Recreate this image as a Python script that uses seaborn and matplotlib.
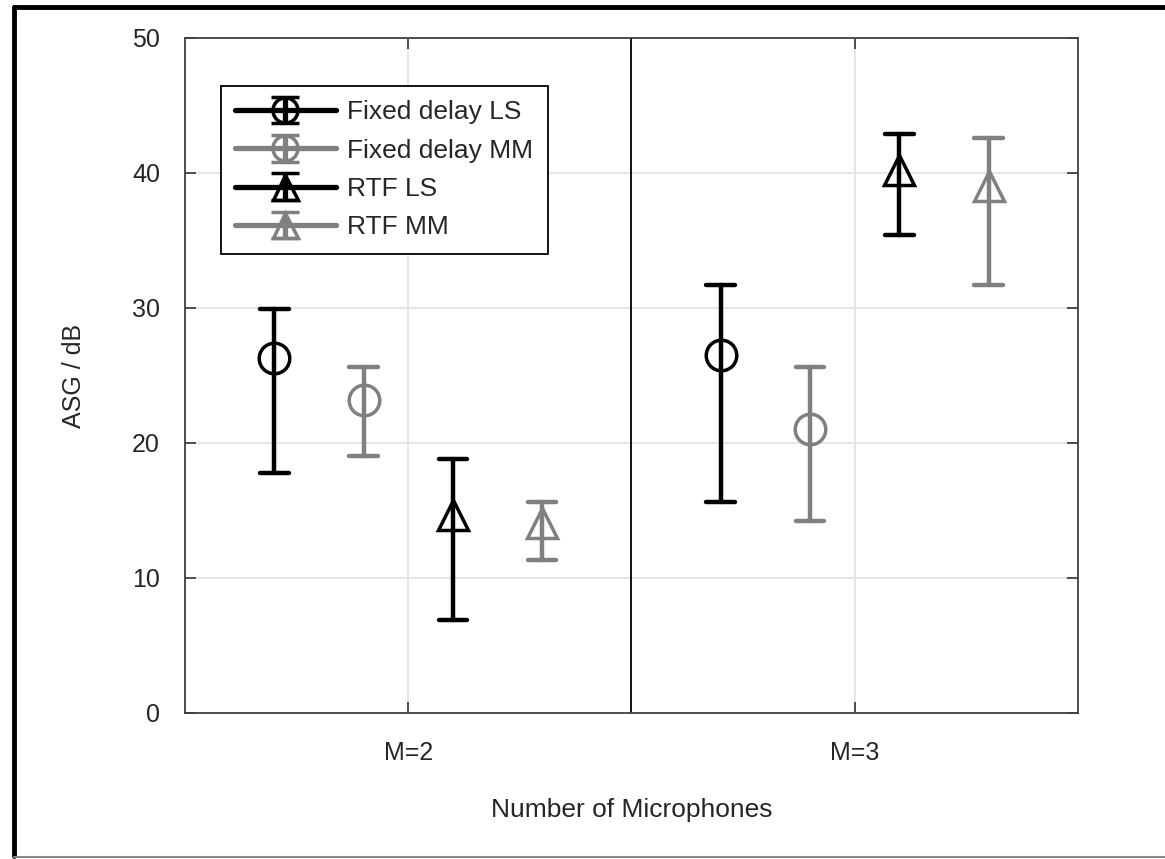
import numpy as np
import pandas as pd
import seaborn as sns
import matplotlib.pyplot as plt
from matplotlib.lines import Line2D

# values (ASG in dB)
groups = ['M=2', 'M=3']
methods = ['Fixed delay LS', 'Fixed delay MM', 'RTF LS', 'RTF MM']
m2_mid = [26.3, 23.2, 14.7, 14.1]
m2_low = [17.8, 19.0, 6.9, 11.3]
m2_high = [29.9, 25.6, 18.8, 15.6]
m3_mid = [26.5, 21.0, 40.2, 39.0]
m3_low = [15.6, 14.2, 35.4, 31.7]
m3_high = [31.7, 25.6, 42.9, 42.6]

colors = ['black', '#808080', 'black', '#808080']
marker_list = ['o', 'o', '^', '^']

# long table: low / mid / high per point, median -> marker, min/max -> bar
rows = []
for g, lo, mi, hi in [('M=2', m2_low, m2_mid, m2_high), ('M=3', m3_low, m3_mid, m3_high)]:
    for i, m in enumerate(methods):
        for v in (lo[i], mi[i], hi[i]):
            rows.append({'group': g, 'method': m, 'asg': v})
df = pd.DataFrame(rows)

sns.set_style('whitegrid')
plt.rcParams['font.family'] = ['Liberation Sans', 'DejaVu Sans']

fig, ax = plt.subplots(figsize=(11.65, 8.59), dpi=100)
fig.subplots_adjust(left=0.1588, right=0.9253, bottom=0.170, top=0.9558)

sns.pointplot(data=df, x='group', y='asg', hue='method', order=groups, hue_order=methods,
              estimator='median', errorbar=lambda v: (v.min(), v.max()),
              dodge=0.6, markers=marker_list, linestyles='none', palette=colors,
              capsize=0.064, err_kws={'linestyle': '-', 'linewidth': 3.2},
              markersize=22, markeredgewidth=2.5, markerfacecolor='none',
              legend=False, ax=ax)

# proxies for the legend so the handles show bars and caps
handles = []
for m, c, mk in zip(methods, colors, marker_list):
    h = ax.errorbar([np.nan], [np.nan], yerr=[1], color=c, marker=mk, mfc='none',
                    ms=18, mew=2.5, lw=3.8, capsize=10, capthick=4.5, label=m)
    handles.append(h)

ax.axvline(0.5, color='black', lw=1.3, zorder=1)
ax.set_xlim(-0.5, 1.5)
ax.set_ylim(0, 50)
ax.set_yticks([0, 10, 20, 30, 40, 50])
ax.grid(True, color='#e3e3e3', lw=1.3)
ax.set_axisbelow(True)
for s in ax.spines.values():
    s.set_color('#404040')
    s.set_linewidth(1.3)
ax.tick_params(direction='in', length=8, width=1.3, color='#404040',
               labelsize=18, labelcolor='#262626', top=True, right=True,
               left=True, bottom=True)
ax.tick_params(axis='y', pad=18)
ax.tick_params(axis='x', pad=20)
ax.set_xlabel('Number of Microphones', fontsize=19, color='#262626', labelpad=24)
ax.set_ylabel('ASG / dB', fontsize=18, color='#262626', labelpad=33)

leg = ax.legend(handles=handles, labels=methods, loc='upper left',
                bbox_to_anchor=(0.040, 0.929), borderaxespad=0, fontsize=19,
                handlelength=3.8, handletextpad=0.45, labelspacing=0.54,
                borderpad=0.55, fancybox=False, framealpha=1)
leg.get_frame().set_edgecolor('black')
leg.get_frame().set_linewidth(1.3)

# outer frame of the figure
fig.add_artist(Line2D([0.012, 0.012], [0.003, 0.992], transform=fig.transFigure, color='black', lw=3.5))
fig.add_artist(Line2D([0.012, 1.0], [0.992, 0.992], transform=fig.transFigure, color='black', lw=3.5))
fig.add_artist(Line2D([0.012, 1.0], [0.002, 0.002], transform=fig.transFigure, color='#888888', lw=1.5))

fig.savefig('out.png', dpi=100)
